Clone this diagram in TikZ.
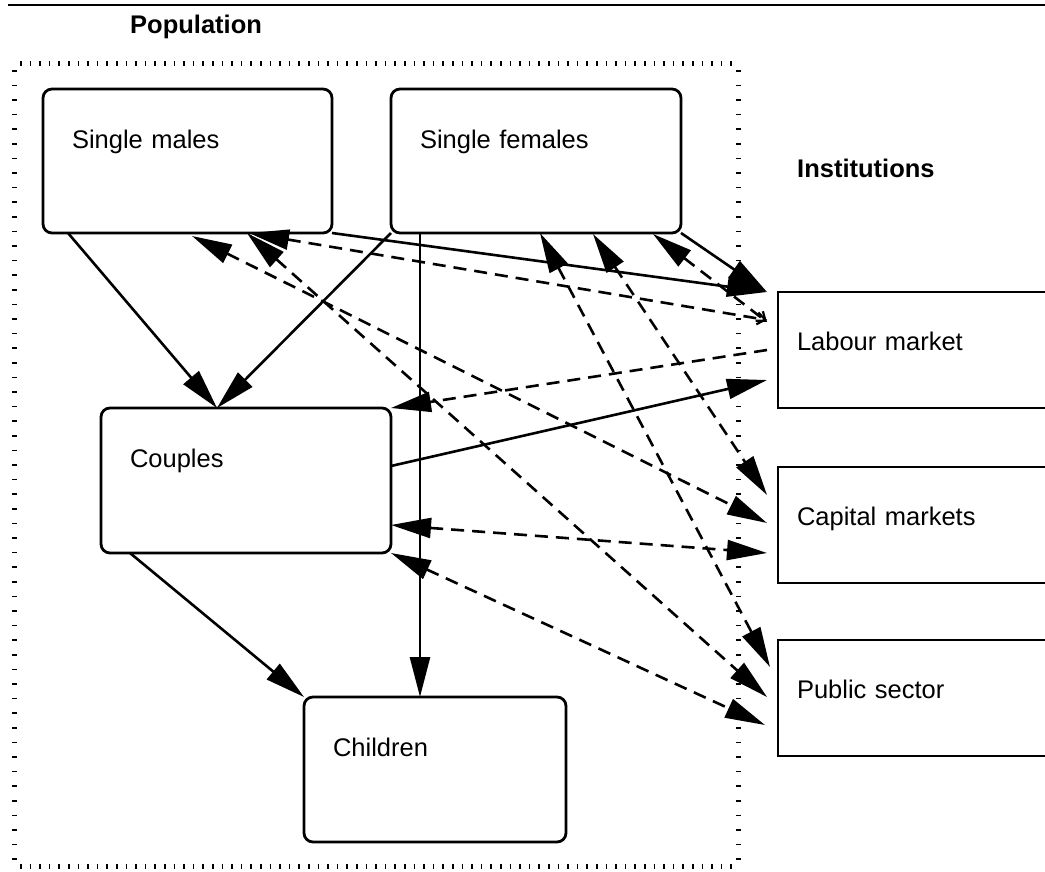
\documentclass[tikz,border=0pt]{standalone}
\usepackage{fontspec}
\setmainfont{Liberation Sans}
\usetikzlibrary{
  positioning,
  arrows.meta,
  calc
}
\tikzstyle{arrow}  = [line width=2.6pt,-{Triangle[length=40pt,width=20pt]}]
\tikzstyle{dasharrow} = [line width=2.6pt,dash pattern=on 13pt off 8pt]
\tikzstyle{twoway} = [dasharrow,{Triangle[length=40pt,width=20pt]}-{Triangle[length=40pt,width=20pt]}]
\tikzstyle{halfway} = [dasharrow,{Triangle[length=40pt,width=20pt]}-{Straight Barb[length=8pt,width=12pt,line width=2.2pt]}]

\begin{document}
\begin{tikzpicture}[x=1pt,y=-1pt,
font=\fontsize{25.5}{30}\selectfont,
popnode/.style={rectangle, rounded corners=9pt, draw, line width=2.8pt, anchor=north west, outer sep=0pt, inner xsep=29pt, inner ysep=0pt, text height=59pt, align=left},
instnode/.style={rectangle, draw, line width=2.8pt, anchor=north west, outer sep=0pt, inner xsep=19pt, inner ysep=0pt, text height=58pt, text depth=58pt, text width=262pt, align=left},
headnode/.style={anchor=base west, inner sep=0pt, font=\fontsize{25.5}{30}\selectfont\bfseries},
]
\useasboundingbox (0,0) rectangle (1045,871);

%Frame
\draw[line width=2.8pt] (8,5) -- (1045,5);
\draw[line width=5pt, dash pattern=on 1.6pt off 8pt] (20,63) -- (738,63);
\draw[line width=5pt, dash pattern=on 1.6pt off 8pt] (20,866) -- (738,866);
\draw[line width=5pt, dash pattern=on 1.6pt off 13pt] (14,70) -- (14,862);
\draw[line width=5pt, dash pattern=on 1.6pt off 13pt] (738,70) -- (738,862);

%Nodes
\node[headnode]  (pop)  at (130,33)  {Population};
\node[headnode]  (inst) at (797,177) {Institutions};

\node[popnode, text width=231pt, text depth=85pt] (sm) at (43,89)   {Single males};
\node[popnode, text width=232pt, text depth=85pt] (sf) at (391,89)  {Single females};
\node[popnode, text width=232pt, text depth=86pt] (cp) at (101,408) {Couples};
\node[popnode, text width=204pt, text depth=86pt] (ch) at (304,697) {Children};

\node[instnode] (lm) at (778,292) {Labour market};
\node[instnode] (cm) at (778,467) {Capital markets};
\node[instnode] (ps) at (778,640) {Public sector};

%Lines
\draw[arrow] ($(sm.south west)+(25,0)$) -- ($(cp.north west)+(116,0)$);
\draw[arrow] (sf.south west) -- ($(cp.north west)+(116,0)$);
\draw[arrow] ($(sf.south west)+(29,0)$) -- ($(ch.north west)+(116,0)$);
\draw[arrow] ($(cp.south west)+(29,0)$) -- (ch.north west);
\draw[arrow] ($(cp.north east)+(0,58)$) -- ($(lm.north west)+(-11,88)$);
\draw[arrow] (sm.south east) -- ($(lm.north west)+(-11,0)$);
\draw[arrow] (sf.south east) -- ($(lm.north west)+(-11,0)$);

%Dashed lines
\draw[halfway] ($(sm.south west)+(206,0)$) -- ($(lm.north west)+(-11,28)$);
\draw[halfway] ($(sf.south west)+(262,1)$) -- ($(lm.north west)+(-11,30)$);
\draw[twoway] ($(sm.south west)+(149,3)$) -- ($(cm.north west)+(-11,56)$);
\draw[twoway] ($(sm.south west)+(204,0)$) -- ($(ps.north west)+(-11,57)$);
\draw[twoway] ($(sf.south west)+(149,0)$) -- ($(ps.north west)+(-8,27)$);
\draw[twoway] ($(sf.south west)+(202,1)$) -- ($(cm.north west)+(-11,28)$);
\draw[dasharrow,-{Triangle[length=40pt,width=20pt]}] ($(lm.north west)+(-11,58)$) -- (cp.north east);
\draw[twoway] ($(cp.north east)+(0,117)$) -- ($(cm.north west)+(-11,86)$);
\draw[twoway] (cp.south east) -- ($(ps.north west)+(-13,85)$);
\end{tikzpicture}
\end{document}
